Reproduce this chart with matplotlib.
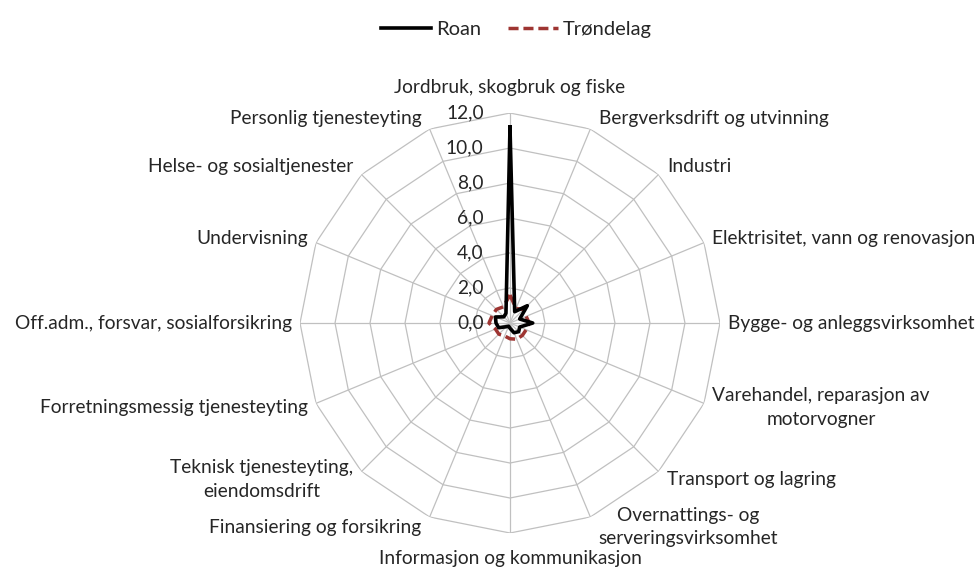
import numpy as np
import matplotlib
matplotlib.use('Agg')
import matplotlib.pyplot as plt

plt.rcParams['font.family'] = ['Lato', 'DejaVu Sans']

categories = [
    'Jordbruk, skogbruk og fiske',
    'Bergverksdrift og utvinning',
    'Industri',
    'Elektrisitet, vann og renovasjon',
    'Bygge- og anleggsvirksomhet',
    'Varehandel, reparasjon av\nmotorvogner',
    'Transport og lagring',
    'Overnattings- og\nserveringsvirksomhet',
    'Informasjon og kommunikasjon',
    'Finansiering og forsikring',
    'Teknisk tjenesteyting,\neiendomsdrift',
    'Forretningsmessig tjenesteyting',
    'Off.adm., forsvar, sosialforsikring',
    'Undervisning',
    'Helse- og sosialtjenester',
    'Personlig tjenesteyting',
]
roan = [11.2, 0.7, 1.4, 0.6, 1.3, 0.6, 0.7, 0.6, 0.3, 0.2, 0.3, 0.7, 0.8, 0.9, 0.5, 0.6]
trondelag = [1.6, 0.9, 1.1, 1.0, 1.1, 1.0, 1.0, 1.0, 0.9, 0.8, 0.9, 0.9, 1.2, 1.1, 1.1, 1.0]
rticks = [0, 2, 4, 6, 8, 10, 12]
rtick_labels = ['0,0', '2,0', '4,0', '6,0', '8,0', '10,0', '12,0']

n = len(categories)
theta = np.arange(n) * 2 * np.pi / n
theta_closed = np.append(theta, theta[0])

txt_col = '#262626'
fs = 13.8

fig = plt.figure(figsize=(9.8, 5.68), dpi=100)
ax = fig.add_axes([0.3061, 0.0616, 0.4286, 0.7394], projection='polar')
ax.set_theta_zero_location('N')
ax.set_theta_direction(-1)
ax.set_ylim(0, 12)
ax.grid(False)
ax.spines['polar'].set_visible(False)
ax.set_xticks([])
ax.set_yticks([])

grid_col = '#c0c0c0'
# polygon rings
for r in rticks[1:]:
    ax.plot(theta_closed, [r] * (n + 1), color=grid_col, lw=0.9, zorder=1)
# spokes
for t in theta:
    ax.plot([t, t], [0, 12], color=grid_col, lw=0.9, zorder=1)

ax.plot(theta_closed, np.append(trondelag, trondelag[0]), color='#9e3532',
        lw=2.5, linestyle=(0, (2.9, 1.4)), zorder=3, label='Trøndelag')
ax.plot(theta_closed, np.append(roan, roan[0]), color='black', lw=2.6,
        zorder=4, label='Roan')

# radial tick labels
for r, lab in zip(rticks, rtick_labels):
    ax.annotate(lab, xy=(0, r), xytext=(-19, 0), textcoords='offset points',
                ha='right', va='center', fontsize=fs, color=txt_col)

# category labels
for t, lab in zip(theta, categories):
    s, c = np.sin(t), -np.cos(t)
    dx = 6 * np.sign(round(s, 3))
    dy = -8 * c
    if abs(s) < 0.01:
        ha = 'center'
    elif s > 0:
        ha = 'left'
    else:
        ha = 'right'
    va = 'center'
    if abs(c) > 0.99:
        va = 'bottom' if c < 0 else 'top'
        dy = -12 * c
    ax.annotate(lab, xy=(t, 12), xytext=(dx, dy), textcoords='offset points',
                ha=ha, va=va, fontsize=fs, color=txt_col,
                multialignment='center', linespacing=1.45)

# legend
handles, labels = ax.get_legend_handles_labels()
leg = fig.legend(handles[::-1], labels[::-1], loc='upper center', bbox_to_anchor=(0.527, 0.995),
                 ncol=2, frameon=False, fontsize=14.5, handlelength=2.5, columnspacing=1.3,
                 handletextpad=0.25)
for t in leg.get_texts():
    t.set_color(txt_col)

plt.savefig('out.png', dpi=100)
